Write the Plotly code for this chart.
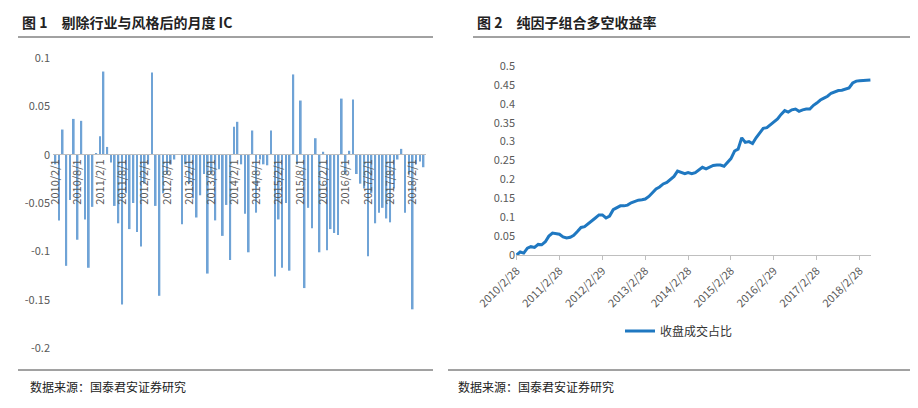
import plotly.graph_objects as go
import pandas as pd

ic_values = [-0.01,-0.068,0.026,-0.115,-0.047,0.037,-0.088,0.035,-0.067,-0.117,-0.054,0.001,0.019,0.086,0.008,-0.008,
 -0.053,-0.071,-0.155,-0.04,-0.077,-0.05,-0.08,-0.095,-0.03,-0.01,0.085,-0.053,-0.146,-0.04,-0.02,-0.01,-0.005,0.0,
 -0.072,-0.01,-0.03,-0.045,-0.065,-0.042,-0.02,-0.123,-0.02,-0.068,-0.015,-0.084,-0.052,-0.109,0.029,0.034,-0.01,
 -0.061,-0.101,0.025,-0.06,-0.005,-0.01,-0.011,0.025,-0.126,-0.067,-0.117,-0.05,-0.12,0.083,-0.01,0.056,-0.138,
 -0.055,-0.076,0.017,-0.101,0.003,-0.099,-0.077,-0.081,-0.083,0.058,-0.02,0.004,0.057,-0.02,-0.03,-0.035,-0.105,
 -0.04,-0.071,-0.06,-0.055,-0.066,-0.07,-0.035,-0.005,0.006,-0.06,-0.02,-0.16,-0.01,-0.007,-0.013]
ic_dates = pd.date_range("2010-02-01", periods=len(ic_values), freq="MS")
ic_tick_labels = [f"{y}/{m}/1" for y in range(2010, 2019) for m in (2, 8)][:17]

ls_values = [0,.008,.005,.018,.022,.02,.028,.027,.035,.05,.058,.057,
 .055,.048,.045,.047,.052,.062,.073,.075,.082,.09,.098,.106,
 .106,.098,.103,.12,.125,.13,.13,.132,.138,.142,.145,.146,
 .148,.155,.165,.175,.18,.188,.192,.2,.208,.222,.218,.215,
 .218,.215,.218,.225,.232,.228,.232,.237,.238,.238,.235,.245,
 .255,.275,.28,.31,.298,.3,.295,.31,.322,.335,.337,.345,
 .35,.36,.372,.382,.378,.384,.386,.38,.384,.386,.386,.396,
 .402,.41,.415,.42,.428,.432,.435,.436,.44,.442,.455,.46,
 .461,.462,.462,.463]
ls_dates = pd.date_range("2010-02-28", periods=len(ls_values), freq="ME")
ls_tick_labels = ["2010/2/28","2011/2/28","2012/2/29","2013/2/28","2014/2/28","2015/2/28","2016/2/29","2017/2/28","2018/2/28"]
ls_tick_vals = [pd.Timestamp(s.replace("/", "-")) for s in ls_tick_labels]

W, H = 918, 408
def px(x): return x / W
def py(y): return 1 - y / H

fig = go.Figure()
fig.add_trace(go.Bar(x=ic_dates, y=ic_values, marker_color="#6FA3D6", marker_line_width=0,
                     width=1000*3600*24*14, xaxis="x", yaxis="y", showlegend=False))
fig.add_trace(go.Scatter(x=ls_dates, y=ls_values, mode="lines", line=dict(color="#1F78C1", width=3),
                         name="收盘成交占比", xaxis="x2", yaxis="y2"))

font = "Noto Sans CJK SC"
fig.update_layout(
    width=W, height=H, margin=dict(l=0, r=0, t=0, b=0, autoexpand=False), paper_bgcolor="white", plot_bgcolor="white",
    font=dict(family=font, color="#595959", size=11),
    xaxis=dict(domain=[px(45), px(418)], anchor="free", position=py(146), type="date", automargin=False,
               range=[ic_dates[0] - pd.Timedelta(days=20), ic_dates[-1] + pd.Timedelta(days=20)],
               tickvals=list(ic_dates[::6]), ticktext=ic_tick_labels, tickangle=-90,
               showline=True, linecolor="#BFBFBF", showgrid=False, ticks="", tickfont=dict(size=11, color="#595959")),
    yaxis=dict(domain=[py(340), py(50)], range=[-0.2, 0.1], automargin=False,
               tickvals=[-0.2,-0.15,-0.1,-0.05,0,0.05,0.1],
               ticktext=["-0.2","-0.15","-0.1","-0.05","0","0.05","0.1"], showgrid=False, zeroline=False,
               anchor="free", position=px(42), showline=False, tickfont=dict(size=11)),
    xaxis2=dict(domain=[px(508), px(863)], anchor="y2", type="date", automargin=False,
                range=[ls_dates[0] - pd.Timedelta(days=5), ls_dates[-1] + pd.Timedelta(days=5)],
                tickvals=ls_tick_vals, ticktext=ls_tick_labels, tickangle=-45, showgrid=False,
                showline=True, linecolor="#BFBFBF", ticks="outside", ticklen=4, tickcolor="#BFBFBF",
                tickfont=dict(size=11)),
    yaxis2=dict(domain=[py(247), py(58)], range=[0, 0.5], showgrid=False, automargin=False,
                zeroline=False, anchor="x2", tickfont=dict(size=11),
                tickvals=[0,.05,.1,.15,.2,.25,.3,.35,.4,.45,.5],
                ticktext=["0","0.05","0.1","0.15","0.2","0.25","0.3","0.35","0.4","0.45","0.5"]),
    legend=dict(x=px(612), y=py(323), xanchor="left", yanchor="middle", orientation="h",
                font=dict(size=12, color="#333", family=font)),
)
fig.add_annotation(x=px(12), y=py(14), xref="paper", yref="paper", xanchor="left", yanchor="middle", showarrow=False,
                   text="<b>图 1　剔除行业与风格后的月度 IC</b>", font=dict(size=14, color="#222", family=font))
fig.add_annotation(x=px(467), y=py(14), xref="paper", yref="paper", xanchor="left", yanchor="middle", showarrow=False,
                   text="<b>图 2　纯因子组合多空收益率</b>", font=dict(size=14, color="#222", family=font))
for x0 in (12, 440):
    fig.add_annotation(x=px(x0 + 8), y=py(378), xref="paper", yref="paper", xanchor="left", yanchor="middle", showarrow=False,
                       text="数据来源：国泰君安证券研究", font=dict(size=12, color="#222", family=font))
for (a, b, y) in [(10, 425, 29), (465, 905, 29), (10, 425, 362), (440, 905, 362)]:
    fig.add_shape(type="line", xref="paper", yref="paper", x0=px(a), x1=px(b), y0=py(y), y1=py(y),
                  line=dict(color="#444", width=1))
fig.write_html("out.html")
